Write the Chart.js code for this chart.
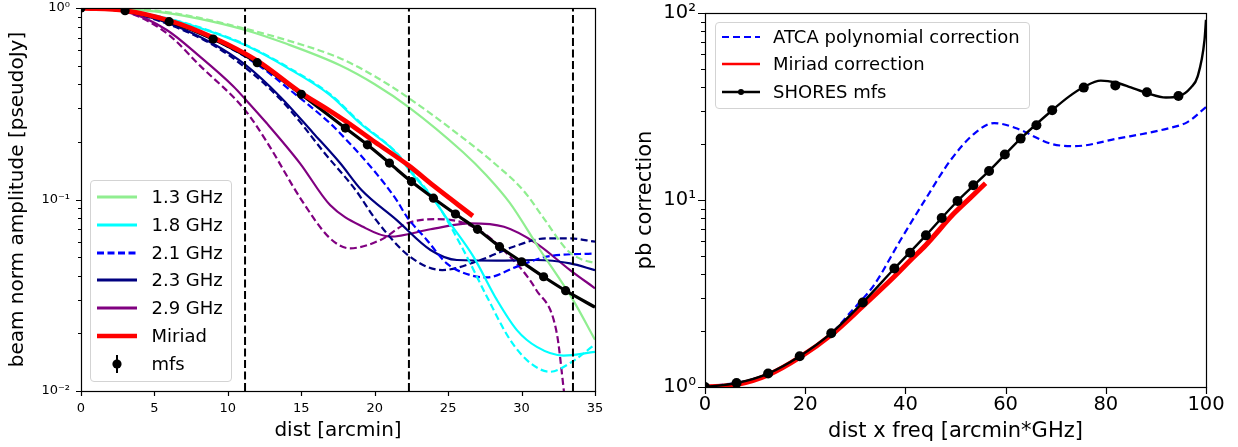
<!DOCTYPE html>
<html>
<head>
<meta charset="utf-8">
<script src="https://cdn.jsdelivr.net/npm/chart.js@4.4.1/dist/chart.umd.min.js"></script>
<style>
  body { margin: 0; background: #fff; }
  #wrap { position: relative; width: 1238px; height: 447px; overflow: hidden; font-family: "DejaVu Sans", sans-serif; }
  canvas { position: absolute; top: 0; }
  .legend { position: absolute; box-sizing: border-box; background: rgba(255,255,255,0.8); border: 1px solid #d3d3d3; border-radius: 4px; }
  .legend .row { position: absolute; left: 0; height: 20px; }
  .legend svg { position: absolute; top: 0; }
  .legend span { position: absolute; top: -2px; font-size: 18px; line-height: 24px; color: #000; white-space: nowrap; }
</style>
</head>
<body>
<div id="wrap">
  <canvas id="beamChart" width="620" height="447" style="left:0"></canvas>
  <canvas id="pbChart" width="618" height="447" style="left:620px"></canvas>
  <div id="legendBeam" class="legend" style="left:90px;top:180px;width:142px;height:202px"></div>
  <div id="legendPb" class="legend" style="left:715px;top:22px;width:315px;height:87px"></div>
</div>
<script>
// ----------------------------
// LEFT PANEL: beam amplitude vs dist [arcmin]
// ----------------------------
const green13X  = [0, 5, 8, 11.17, 14, 17.6, 20, 22.33, 26, 27.6, 29.2, 31.26, 33.5, 35];
const green13Y  = [1, 0.96, 0.88, 0.768, 0.65, 0.504, 0.40, 0.303, 0.177, 0.134, 0.096, 0.0545, 0.0299, 0.0185];
const green13dX = [0, 5, 8, 11.17, 14, 17.6, 20, 22.33, 26, 28, 30.1, 31.5, 33.1, 34, 35];
const green13dY = [1, 0.97, 0.89, 0.78, 0.68, 0.548, 0.44, 0.338, 0.21, 0.158, 0.112, 0.08, 0.0545, 0.049, 0.0466];

const cyan18X  = [0, 3, 6, 9, 11.17, 14, 16.96, 19, 21.5, 22.33, 23.89, 25.14, 26.72, 28.32, 29.68, 31.04, 32.86, 35];
const cyan18Y  = [1, 0.968, 0.875, 0.745, 0.64, 0.49, 0.351, 0.25, 0.174, 0.143, 0.103, 0.0751, 0.0503, 0.0299, 0.0208, 0.017, 0.0153, 0.016];
const cyan18dX = [0, 3, 6, 9, 11.17, 14, 16.96, 19, 21.5, 22.5, 24.23, 26.04, 27.64, 29.22, 30.59, 31.95, 33.31, 35];
const cyan18dY = [1, 0.97, 0.88, 0.75, 0.645, 0.495, 0.355, 0.253, 0.175, 0.14, 0.0955, 0.0545, 0.0311, 0.0185, 0.014, 0.0126, 0.014, 0.0175];

const blue21X = [0, 3, 6, 9, 12, 14.2, 16.96, 17.64, 20, 21.5, 22.2, 23.55, 24.9, 26.5, 27.64, 29.68, 31.7, 35];
const blue21Y = [1, 0.967, 0.845, 0.685, 0.508, 0.375, 0.25, 0.222, 0.14, 0.099, 0.081, 0.0615, 0.0464, 0.0403, 0.0392, 0.0446, 0.0503, 0.0523];

const navy23X  = [0, 3, 6, 9, 11.2, 13.56, 15.82, 17.64, 19.1, 21.5, 23.8, 25.6, 28.3, 31, 33.3, 35];
const navy23Y  = [1, 0.96, 0.83, 0.65, 0.504, 0.344, 0.222, 0.155, 0.112, 0.078, 0.0545, 0.0483, 0.048, 0.0483, 0.0464, 0.0428];
const navy23dX = [0, 3, 6, 9, 11.17, 13.56, 14.9, 16.5, 18.7, 20.1, 22.4, 24.6, 27.2, 29.45, 31.7, 33.3, 35];
const navy23dY = [1, 0.96, 0.82, 0.64, 0.49, 0.335, 0.255, 0.178, 0.112, 0.078, 0.0503, 0.0428, 0.0483, 0.0567, 0.0627, 0.0627, 0.0602];

const purple29X  = [0, 3.1, 5.84, 8.1, 10.4, 11.17, 12.65, 14.9, 16.96, 19.2, 21.05, 23.8, 26.5, 28.8, 31, 33.3, 35];
const purple29Y  = [1, 0.955, 0.768, 0.557, 0.388, 0.335, 0.25, 0.155, 0.0936, 0.072, 0.064, 0.0699, 0.075, 0.072, 0.059, 0.0428, 0.0344];
const purple29dX = [0, 3, 5.84, 8.1, 11.17, 12.65, 15.03, 16.96, 18.3, 20.4, 22.2, 24.3, 26.7, 29, 31, 32.4, 32.85, 33.1];
const purple29dY = [1, 0.955, 0.738, 0.50, 0.293, 0.20, 0.099, 0.0627, 0.0556, 0.0615, 0.0751, 0.079, 0.072, 0.0523, 0.0337, 0.020, 0.0105, 0.007];

const miriadX = [0, 3, 6, 9, 12, 15, 16.96, 18, 20, 22.33, 24, 26.68];
const miriadY = [1, 0.97, 0.86, 0.70, 0.53, 0.36, 0.29, 0.257, 0.200, 0.150, 0.118, 0.082];

const mfsX = [0, 3, 6, 9, 12, 15, 18, 19.5, 21, 22.5, 24, 25.5, 27, 28.5, 30, 31.5, 33];
const mfsY = [1, 0.968, 0.848, 0.689, 0.518, 0.354, 0.236, 0.193, 0.155, 0.124, 0.1016, 0.084, 0.0699, 0.0567, 0.0473, 0.0395, 0.0334];
const mfsLineX = [...mfsX, 35];
const mfsLineY = [...mfsY, 0.0274];

const beamEdges = [11.17, 22.33, 33.5];

const beamXTicks = [0, 5, 10, 15, 20, 25, 30, 35];
const beamYTicks = [0.01, 0.1, 1];
const beamYLabels = ['10⁻²', '10⁻¹', '10⁰'];

// ----------------------------
// RIGHT PANEL: pb correction vs dist x freq
// ----------------------------
const atcaX = [0, 10, 20, 25, 29, 33.7, 39, 44.3, 49, 53.7, 57.7, 62.3, 69, 73.7, 82.3, 92.3, 96.3, 100];
const atcaY = [1.0, 1.11, 1.5, 1.9, 2.5, 3.5, 6.09, 10.4, 16.3, 22.6, 25.8, 24.1, 20.0, 19.4, 21.3, 24.1, 26.1, 31.4];

const miriadPbX = [0, 6.3, 12.6, 18.9, 25.2, 31.67, 37.8, 41, 44.1, 49.67, 53, 56];
const miriadPbY = [1.0, 1.03, 1.16, 1.44, 1.9, 2.73, 3.9, 4.76, 5.75, 8.46, 10.3, 12.3];

const shoresX = [0, 6.3, 12.6, 18.9, 25.2, 31.5, 37.8, 40.95, 44.1, 47.25, 50.4, 53.55, 56.7, 59.85, 63, 66.15, 69.3, 75.6, 81.9, 88.2, 94.5];
const shoresY = [1.0, 1.05, 1.18, 1.46, 1.94, 2.83, 4.30, 5.23, 6.47, 8.02, 9.88, 11.98, 14.3, 17.5, 21.3, 25.1, 30.2, 39.9, 41.0, 37.7, 36.0];
const shoresFitX = [0, 6.3, 12.6, 18.9, 25.2, 31.5, 37.8, 44.1, 50.4, 56.7, 63, 69.3, 72.5, 75.6, 79, 82, 85, 88.2, 92, 94.5, 97, 98.3, 99.7, 100];
const shoresFitY = [1.0, 1.05, 1.18, 1.46, 1.94, 2.83, 4.30, 6.47, 9.88, 14.3, 21.3, 30.2, 35.5, 40.2, 43.5, 42.5, 40.0, 37.3, 35.3, 35.8, 40, 45.5, 71.5, 92];

const pbXTicks = [0, 20, 40, 60, 80, 100];
const pbYTicks = [1, 10, 100];
const pbYLabels = ['10⁰', '10¹', '10²'];

const minorSteps = [2, 3, 4, 5, 6, 7, 8, 9];
const FONT = '"DejaVu Sans", sans-serif';

// ----------------------------
// HELPERS
// ----------------------------
function pairs(xs, ys) {
  return xs.map((x, i) => ({ x, y: ys[i] }));
}

function curve(label, xs, ys, color, width, dash, order) {
  return {
    label,
    data: pairs(xs, ys),
    borderColor: color,
    backgroundColor: color,
    borderWidth: width,
    borderDash: dash || [],
    pointRadius: 0,
    fill: false,
    cubicInterpolationMode: 'monotone',
    clip: 0,
    order
  };
}

function dots(label, xs, ys, r, order) {
  return {
    label,
    data: pairs(xs, ys),
    showLine: false,
    pointRadius: r,
    pointBackgroundColor: '#000',
    pointBorderColor: '#000',
    pointBorderWidth: 0,
    clip: 0,
    order
  };
}

function minorValues(decades) {
  const out = [];
  decades.slice(0, -1).forEach(d => minorSteps.forEach(k => out.push(k * d)));
  return out;
}

// draws the box and the tick marks (major + log minors)
const axesFrame = {
  id: 'axesFrame',
  afterDatasetsDraw(chart, args, o) {
    const { ctx, chartArea: a, scales: { x, y } } = chart;
    ctx.save();
    ctx.strokeStyle = '#000';
    ctx.lineWidth = o.lw;
    ctx.beginPath();
    o.xMajor.forEach(v => {
      const px = Math.round(x.getPixelForValue(v)) + 0.5;
      ctx.moveTo(px, a.bottom);
      ctx.lineTo(px, a.bottom + o.major);
    });
    o.yMajor.forEach(v => {
      const py = Math.round(y.getPixelForValue(v)) + 0.5;
      ctx.moveTo(a.left, py);
      ctx.lineTo(a.left - o.major, py);
    });
    o.yMinor.forEach(v => {
      const py = Math.round(y.getPixelForValue(v)) + 0.5;
      ctx.moveTo(a.left, py);
      ctx.lineTo(a.left - o.minor, py);
    });
    ctx.stroke();
    ctx.strokeRect(Math.round(a.left) + 0.5, Math.round(a.top) + 0.5,
                   Math.round(a.right - a.left), Math.round(a.bottom - a.top));
    ctx.restore();
  }
};

function baseOptions(cfg) {
  return {
    responsive: false,
    animation: false,
    events: [],
    layout: { padding: cfg.padding },
    plugins: {
      legend: { display: false },
      tooltip: { enabled: false },
      axesFrame: cfg.frame
    },
    scales: {
      x: {
        type: 'linear',
        min: cfg.xMin, max: cfg.xMax,
        afterBuildTicks: s => { s.ticks = cfg.xTicks.map(v => ({ value: v })); },
        afterFit: s => { s.height = cfg.xHeight; s.paddingLeft = 0; s.paddingRight = 0; },
        grid: { display: false, drawTicks: false },
        border: { display: false },
        ticks: { padding: cfg.xPad, color: '#000', autoSkip: false, maxRotation: 0,
                 font: { family: FONT, size: cfg.tickSize } },
        title: { display: true, text: cfg.xTitle, color: '#000',
                 font: { family: FONT, size: cfg.titleSize }, padding: { top: 0, bottom: cfg.xTitlePad } }
      },
      y: {
        type: 'logarithmic',
        min: cfg.yMin, max: cfg.yMax,
        afterBuildTicks: s => { s.ticks = cfg.yTicks.map(v => ({ value: v })); },
        afterFit: s => { s.width = cfg.yWidth; s.paddingTop = 0; s.paddingBottom = 0; },
        grid: { display: false, drawTicks: false },
        border: { display: false },
        ticks: { padding: cfg.yPad, color: '#000', autoSkip: false,
                 font: { family: FONT, size: cfg.tickSize },
                 callback: v => cfg.yLabels[cfg.yTicks.indexOf(v)] },
        title: { display: true, text: cfg.yTitle, color: '#000',
                 font: { family: FONT, size: cfg.titleSize }, padding: { top: cfg.yTitlePad, bottom: 0 } }
      }
    }
  };
}

// ----------------------------
// LEFT CHART
// ----------------------------
const edgeSets = beamEdges.map(v =>
  ({ label: 'edge', data: [{ x: v, y: beamYTicks[0] }, { x: v, y: beamYTicks[2] }],
     borderColor: '#000', borderWidth: 2, borderDash: [8, 3.5], pointRadius: 0, tension: 0, clip: 0, order: 3 }));

new Chart(document.getElementById('beamChart'), {
  type: 'line',
  data: {
    datasets: [
      curve('1.3 GHz', green13X, green13Y, '#90ee90', 2.2, null, 5),
      curve('1.3 GHz b', green13dX, green13dY, '#90ee90', 2.2, [7, 3.5], 5),
      curve('1.8 GHz', cyan18X, cyan18Y, '#00ffff', 2.2, null, 5),
      curve('1.8 GHz b', cyan18dX, cyan18dY, '#00ffff', 2.2, [7, 3.5], 5),
      curve('2.1 GHz', blue21X, blue21Y, '#0000ff', 2.2, [7, 3.5], 5),
      curve('2.3 GHz', navy23X, navy23Y, '#000080', 2.2, null, 5),
      curve('2.3 GHz b', navy23dX, navy23dY, '#000080', 2.2, [7, 3.5], 5),
      curve('2.9 GHz', purple29X, purple29Y, '#800080', 2.2, null, 5),
      curve('2.9 GHz b', purple29dX, purple29dY, '#800080', 2.2, [7, 3.5], 5),
      ...edgeSets,
      curve('mfs line', mfsLineX, mfsLineY, '#000', 3.2, null, 2),
      curve('Miriad', miriadX, miriadY, '#ff0000', 4.8, null, 1),
      dots('mfs', mfsX, mfsY, 4.6, 0)
    ]
  },
  options: baseOptions({
    padding: { top: 8, right: 25, left: 0, bottom: 0 },
    xMin: 0, xMax: 35, xTicks: beamXTicks, xHeight: 56, xPad: 9.5,
    yMin: 0.01, yMax: 1, yTicks: beamYTicks, yLabels: beamYLabels, yWidth: 81, yPad: 11,
    tickSize: 13, titleSize: 20,
    xTitle: 'dist [arcmin]', xTitlePad: 4,
    yTitle: 'beam norm amplitude [pseudoJy]', yTitlePad: 6,
    frame: { lw: 1.2, major: 5, minor: 3, xMajor: beamXTicks, yMajor: beamYTicks, yMinor: minorValues(beamYTicks) }
  }),
  plugins: [axesFrame]
});

// ----------------------------
// RIGHT CHART
// ----------------------------
new Chart(document.getElementById('pbChart'), {
  type: 'line',
  data: {
    datasets: [
      curve('ATCA polynomial correction', atcaX, atcaY, '#0000ff', 2.2, [7, 4], 4),
      curve('Miriad correction', miriadPbX, miriadPbY, '#ff0000', 5, null, 3),
      curve('SHORES mfs', shoresFitX, shoresFitY, '#000', 2.4, null, 1),
      dots('SHORES mfs pts', shoresX, shoresY, 5, 0)
    ]
  },
  options: baseOptions({
    padding: { top: 13, right: 32, left: 0, bottom: 0 },
    xMin: 0, xMax: 100, xTicks: pbXTicks, xHeight: 60, xPad: 6,
    yMin: 1, yMax: 100, yTicks: pbYTicks, yLabels: pbYLabels, yWidth: 85, yPad: 9,
    tickSize: 19.5, titleSize: 21,
    xTitle: 'dist x freq [arcmin*GHz]', xTitlePad: 3,
    yTitle: 'pb correction', yTitlePad: 13,
    frame: { lw: 1.2, major: 7, minor: 4, xMajor: pbXTicks, yMajor: pbYTicks, yMinor: minorValues(pbYTicks) }
  }),
  plugins: [axesFrame]
});

// ----------------------------
// LEGENDS (html, drawn over the canvases)
// ----------------------------
const beamLegend = [
  { label: '1.3 GHz', color: '#90ee90', width: 3 },
  { label: '1.8 GHz', color: '#00ffff', width: 3 },
  { label: '2.1 GHz', color: '#0000ff', width: 3, dash: '7 3.5' },
  { label: '2.3 GHz', color: '#000080', width: 3 },
  { label: '2.9 GHz', color: '#800080', width: 3 },
  { label: 'Miriad', color: '#ff0000', width: 4.5 },
  { label: 'mfs', errorbar: true }
];
const pbLegend = [
  { label: 'ATCA polynomial correction', color: '#0000ff', width: 2.2, dash: '7 4' },
  { label: 'Miriad correction', color: '#ff0000', width: 2.6 },
  { label: 'SHORES mfs', color: '#000', width: 2.4, dot: true }
];

function sample(e, len) {
  const mid = len / 2;
  if (e.errorbar) {
    return `<line x1="${mid}" y1="1" x2="${mid}" y2="19" stroke="#000" stroke-width="2"/>` +
           `<circle cx="${mid}" cy="10" r="4.6" fill="#000"/>`;
  }
  let s = `<line x1="0" y1="10" x2="${len}" y2="10" stroke="${e.color}" stroke-width="${e.width}"` +
          (e.dash ? ` stroke-dasharray="${e.dash}"` : '') + '/>';
  if (e.dot) s += `<circle cx="${mid}" cy="10" r="3" fill="${e.color}"/>`;
  return s;
}

function buildLegend(id, entries, first, step, lineX, lineLen, textX) {
  const box = document.getElementById(id);
  entries.forEach((e, i) => {
    const row = document.createElement('div');
    row.className = 'row';
    row.style.top = (first + i * step - 10) + 'px';
    row.innerHTML = `<svg width="${lineLen}" height="20" style="left:${lineX}px">${sample(e, lineLen)}</svg>` +
                    `<span style="left:${textX}px">${e.label}</span>`;
    box.appendChild(row);
  });
}

buildLegend('legendBeam', beamLegend, 16, 27.8, 6, 40, 60.5);
buildLegend('legendPb', pbLegend, 14, 27.3, 6, 38, 57);
</script>
</body>
</html>
